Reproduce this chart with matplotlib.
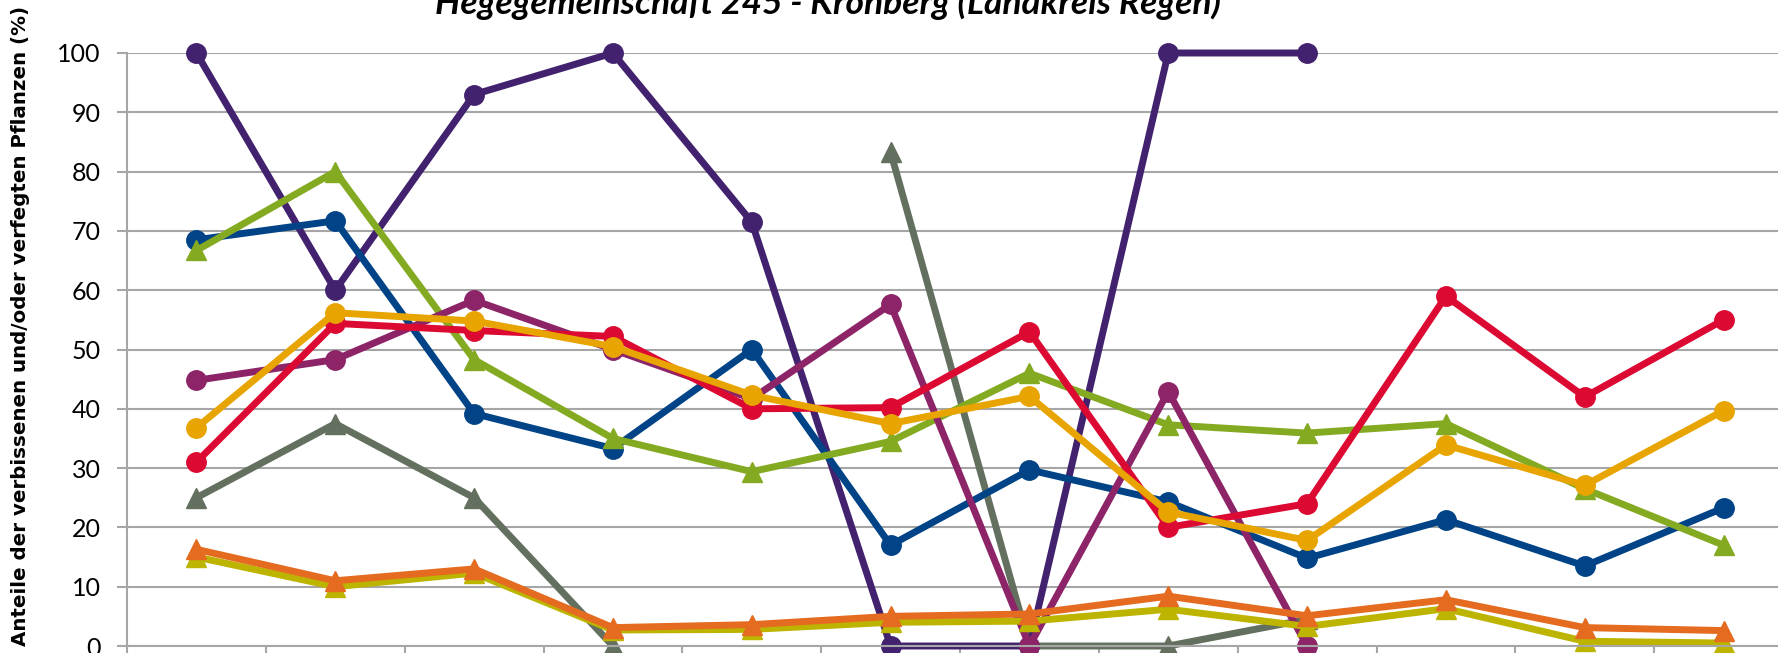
import matplotlib
matplotlib.use('Agg')
import matplotlib.pyplot as plt
import numpy as np

nan = np.nan

# Twelve survey categories (labels are cut off in the reference)
categories = list(range(12))

# Series values, % of browsed and/or frayed plants
s_grau = [25, 37.5, 25, 0, nan, 83.3, 0, 0, 4.5, nan, nan, nan]
s_violett = [100, 60, 93, 100, 71.5, 0, 0, 100, 100, nan, nan, nan]
s_blau = [68.5, 71.7, 39.2, 33.3, 50, 17, 29.7, 24.3, 14.8, 21.3, 13.5, 23.3]
s_gruen = [66.7, 80, 48.3, 35, 29.4, 34.5, 46, 37.3, 35.9, 37.5, 26.5, 17]
s_magenta = [44.8, 48.3, 58.3, 50, 41.7, 57.6, 0, 42.9, 0, nan, nan, nan]
s_rot = [31, 54.4, 53.2, 52.2, 40, 40.2, 53, 20, 24, 59, 42, 55]
s_gold = [36.8, 56.2, 54.8, 50.5, 42.3, 37.5, 42.1, 22.6, 17.8, 33.9, 27.1, 39.7]
s_oliv = [15, 10, 12.3, 2.7, 2.8, 4, 4.2, 6.2, 3.3, 6.3, 0.8, 0.5]
s_orange = [16.3, 11, 13, 3.1, 3.6, 5, 5.4, 8.4, 5.1, 7.8, 3.1, 2.6]

series = [  # (values, colour, marker)
    (s_grau, '#64705f', '^'),
    (s_violett, '#42226e', 'o'),
    (s_blau, '#004387', 'o'),
    (s_gruen, '#84aa22', '^'),
    (s_magenta, '#8d2468', 'o'),
    (s_rot, '#dc0a32', 'o'),
    (s_gold, '#e8a400', 'o'),
    (s_oliv, '#bdb400', '^'),
    (s_orange, '#e46b1f', '^'),
]

fig = plt.figure(figsize=(17.78, 6.53), dpi=100)
ax = fig.add_axes([127/1778, 7/653, 1666/1778, 593/653])

x = np.arange(len(categories))
for vals, col, mk in series:
    ax.plot(x, vals, color=col, lw=5, marker=mk, markersize=14,
            markeredgecolor=col, solid_capstyle='round', clip_on=False)

ax.set_xlim(-0.5, 11.5)
ax.set_ylim(0, 100)
ax.set_yticks(np.arange(0, 101, 10))
ax.set_xticks(np.arange(-0.5, 12, 1))
ax.set_xticklabels([])
ax.yaxis.grid(True, color='#a6a6a6', lw=1.5)
ax.set_axisbelow(True)
for s in ['top', 'right']:
    ax.spines[s].set_visible(False)
for s in ['left', 'bottom']:
    ax.spines[s].set_color('#a6a6a6')
    ax.spines[s].set_linewidth(1.5)
ax.tick_params(axis='y', length=7, width=1.5, color='#a6a6a6', pad=12,
               labelsize=18)
ax.tick_params(axis='x', length=8, width=1.5, color='#a6a6a6')
for lab in ax.get_yticklabels():
    lab.set_fontfamily('Lato')

fig.text(828/1778, (653 - 14)/653,
         'Hegegemeinschaft 245 - Kronberg (Landkreis Regen)',
         ha='center', va='baseline', fontsize=25.5, fontweight='bold',
         fontstyle='italic', family='Lato')
fig.text(21/1778, (653 - 326)/653,
         'Anteile der verbissenen und/oder verfegten Pflanzen (%)',
         ha='center', va='center', rotation=90, fontsize=14.3,
         fontweight='bold', family='DejaVu Sans')

fig.savefig('out.png', dpi=100)
